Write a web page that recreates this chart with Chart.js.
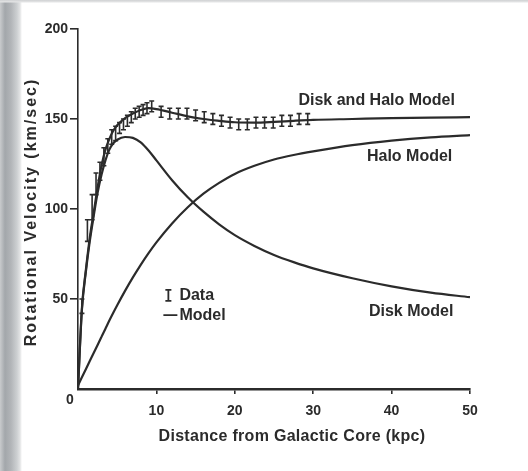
<!DOCTYPE html>
<html><head><meta charset="utf-8">
<script src="https://cdn.jsdelivr.net/npm/chart.js@4.4.1/dist/chart.umd.min.js"></script>
<style>
html,body{margin:0;padding:0;width:528px;height:471px;overflow:hidden;background:#fff;}
#wrap{position:relative;width:528px;height:471px;
 background:
  linear-gradient(to bottom, #cfd1d3 0px, #e4e5e6 2px, rgba(255,255,255,0) 3px),
  linear-gradient(to right, #c9cbcd 0px, #a3a7ab 5px, #b2b5b8 11px, #cdd0d2 17px, #e2e3e4 20px, #ffffff 22px);}
canvas{display:block;filter:blur(0.6px);}
</style></head><body>
<div id="wrap"><canvas id="c" width="528" height="471"></canvas></div>
<script>
// ---- data ----
const modelX        = [0, 0.5, 1, 1.5, 2, 2.5, 3, 3.5, 4, 4.5, 5, 6, 7, 8, 9, 10, 12, 14, 16, 18, 20, 22.5, 25, 27.5, 30, 35, 40, 45, 50];
const diskHaloModel = [0, 45, 66, 84, 98, 112, 124, 133, 139, 143.5, 146.5, 150.5, 153, 155, 156, 155.5, 153.5, 151.5, 150, 149, 148.2, 148, 148.4, 149, 149.5, 150, 150.5, 150.8, 151];
const diskModel     = [0, 44, 65, 82, 96, 109, 119, 127, 133, 136.5, 138.5, 140, 139.5, 137, 132.5, 127, 116, 106.5, 98.5, 91.5, 85.5, 79.5, 74.5, 70.5, 67, 61.5, 57, 53.5, 51];
const haloModel     = [2, 6.5, 11, 15.5, 20, 24.5, 29, 33.5, 38, 42.3, 46.5, 54.5, 62, 69, 75.5, 81.5, 92, 101, 108.5, 114.5, 119.5, 124, 127.5, 130, 132, 135.5, 138, 139.8, 141];

const dataX   = [0.5, 1.2, 1.8, 2.3, 2.8, 3.3, 3.8, 4.3, 4.8, 5.3, 5.8, 6.3, 6.8, 7.3, 7.8, 8.3, 8.8, 9.4, 10.6, 11.7, 12.8, 13.9, 15.0, 16.1, 17.2, 18.3, 19.4, 20.5, 21.6, 22.7, 23.8, 24.9, 26.0, 27.1, 28.2, 29.3];
const dataV   = [46, 88, 101, 114, 121, 129, 135, 140, 142, 145, 147, 149, 151, 153, 154, 155, 156, 157, 154, 153, 153, 153, 152, 151, 150, 149, 148, 147, 147, 148, 148, 148, 149, 149, 150, 150];
const dataErr = [4, 6, 7, 6, 5, 5, 4, 4, 4, 3, 3, 3, 3, 3, 3, 3, 3, 3, 3, 3, 3, 3, 3, 3, 3, 3, 3, 3, 3, 3, 3, 3, 3, 3, 3, 3];

const xTickValues = [0, 10, 20, 30, 40, 50];
const yTickValues = [0, 50, 100, 150, 200];

const curveLabels = [
  {text: 'Disk and Halo Model', x: 38.1, y: 160.5},
  {text: 'Halo Model',          x: 42.3, y: 129},
  {text: 'Disk Model',          x: 42.5, y: 43}
];
const xTitle = 'Distance from Galactic Core (kpc)';
const yTitle = 'Rotational Velocity (km/sec)';

// ---- styling ----
const ink = '#2b2b2b';
const FONT = '"Liberation Sans", Arial, Helvetica, sans-serif';

const toXY = (xs, ys) => xs.map((v, i) => ({x: v, y: ys[i]}));

const overlay = {
  id: 'overlay',
  afterDatasetsDraw(chart) {
    const {ctx, scales: {x, y}} = chart;
    ctx.save();
    // error bars
    ctx.strokeStyle = ink; ctx.lineWidth = 1.6;
    dataX.forEach((xv, i) => {
      const px = x.getPixelForValue(xv);
      const t = y.getPixelForValue(dataV[i] + dataErr[i]);
      const b = y.getPixelForValue(dataV[i] - dataErr[i]);
      ctx.beginPath();
      ctx.moveTo(px, t); ctx.lineTo(px, b);
      ctx.moveTo(px - 2.5, t); ctx.lineTo(px + 2.5, t);
      ctx.moveTo(px - 2.5, b); ctx.lineTo(px + 2.5, b);
      ctx.stroke();
    });
    // curve labels
    ctx.fillStyle = ink;
    ctx.font = 'bold 16px ' + FONT;
    ctx.textAlign = 'center'; ctx.textBaseline = 'middle';
    curveLabels.forEach(l => ctx.fillText(l.text, x.getPixelForValue(l.x), y.getPixelForValue(l.y)));
    // legend
    const lx = x.getPixelForValue(11.4), ly1 = y.getPixelForValue(51.7), ly2 = y.getPixelForValue(41);
    ctx.lineWidth = 1.8;
    ctx.beginPath();
    ctx.moveTo(lx + 1, ly1 - 6); ctx.lineTo(lx + 1, ly1 + 5);
    ctx.moveTo(lx - 2, ly1 - 6); ctx.lineTo(lx + 4, ly1 - 6);
    ctx.moveTo(lx - 2, ly1 + 5); ctx.lineTo(lx + 4, ly1 + 5);
    ctx.moveTo(lx - 4, ly2); ctx.lineTo(lx + 10, ly2);
    ctx.stroke();
    ctx.textAlign = 'left';
    ctx.fillText('Data', lx + 12, ly1);
    ctx.fillText('Model', lx + 12, ly2);
    // shared origin label
    ctx.font = 'bold 14px ' + FONT;
    ctx.textAlign = 'center';
    ctx.fillText('0', x.left - 8, y.bottom + 11);
    // axis titles
    ctx.font = 'bold 16px ' + FONT;
    ctx.letterSpacing = '0.3px';
    ctx.fillText(xTitle, 292, y.bottom + 48);
    ctx.translate(32, (y.top + y.bottom) / 2 + 3);
    ctx.rotate(-Math.PI / 2);
    ctx.letterSpacing = '2px';
    ctx.fillText(yTitle, 0, 0);
    ctx.restore();
  }
};

const lineDs = (label, ys) => ({
  label, data: toXY(modelX, ys), type: 'line',
  borderColor: ink, borderWidth: 2.2, pointRadius: 0,
  cubicInterpolationMode: 'monotone', fill: false
});

new Chart(document.getElementById('c'), {
  type: 'line',
  data: {
    datasets: [
      lineDs('Disk and Halo Model', diskHaloModel),
      lineDs('Disk Model', diskModel),
      lineDs('Halo Model', haloModel),
      {label: 'Data', type: 'scatter', data: toXY(dataX, dataV), pointRadius: 0, showLine: false}
    ]
  },
  options: {
    responsive: false, animation: false,
    layout: {padding: {top: 29, right: 58, bottom: 0, left: 0}},
    plugins: {legend: {display: false}, tooltip: {enabled: false}},
    scales: {
      x: {
        type: 'linear', min: 0, max: 50,
        afterFit: s => { s.height = 82; },
        afterBuildTicks: s => { s.ticks = xTickValues.map(v => ({value: v})); },
        border: {color: ink, width: 2.6},
        grid: {drawOnChartArea: false, tickLength: 5, lineWidth: 1.6,
               color: c => c.tick && c.tick.value === 0 ? 'rgba(0,0,0,0)' : ink},
        ticks: {color: ink, font: {family: FONT, size: 14, weight: 'bold'}, padding: 9,
                callback: v => v === 0 ? '' : v}
      },
      y: {
        type: 'linear', min: 0, max: 200,
        afterFit: s => { s.width = 78; },
        afterBuildTicks: s => { s.ticks = yTickValues.map(v => ({value: v})); },
        border: {color: ink, width: 1.6},
        grid: {drawOnChartArea: false, tickLength: 8, lineWidth: 1.6,
               color: c => c.tick && c.tick.value === 0 ? 'rgba(0,0,0,0)' : ink},
        ticks: {color: ink, font: {family: FONT, size: 14, weight: 'bold'}, padding: 2,
                callback: v => v === 0 ? '' : v}
      }
    }
  },
  plugins: [overlay]
});
</script>
</body></html>
